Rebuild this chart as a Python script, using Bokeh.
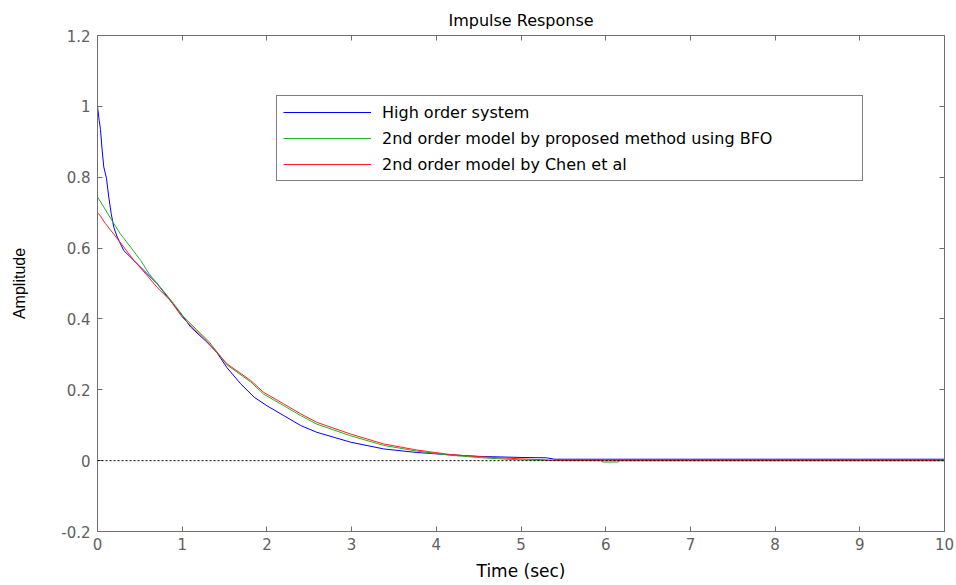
from bokeh.plotting import figure
from bokeh.models import Range1d, LinearAxis, FixedTicker, Span, Legend, LegendItem
from bokeh.embed import file_html
from bokeh.resources import INLINE

# ---- data ----
t_high = [0, 0.02, 0.035, 0.055, 0.074, 0.106, 0.133, 0.162, 0.192, 0.233, 0.31, 0.43, 0.547,
          0.705, 0.86, 1.0, 1.10, 1.29, 1.41, 1.53, 1.69, 1.85, 2.0, 2.2, 2.4, 2.59, 2.79, 2.99,
          3.38, 3.77, 4.13, 4.5, 5.0, 5.3, 5.4, 6.0, 7.0, 8.0, 9.0, 10.0]
y_high = [1.0, 0.96, 0.935, 0.876, 0.829, 0.797, 0.744, 0.697, 0.659, 0.631, 0.593, 0.565, 0.537,
          0.499, 0.452, 0.41, 0.377, 0.335, 0.305, 0.262, 0.217, 0.179, 0.155, 0.127, 0.099, 0.080,
          0.066, 0.052, 0.033, 0.023, 0.017, 0.012, 0.009, 0.008, 0.004, 0.004, 0.004, 0.004, 0.004, 0.004]

t_bfo = [0, 0.074, 0.17, 0.27, 0.39, 0.51, 0.61, 0.74, 0.90, 1.02, 1.17, 1.32, 1.53, 1.81, 1.96,
         2.2, 2.4, 2.59, 2.99, 3.38, 3.77, 4.17, 4.6, 5.0, 5.5, 5.95, 5.96, 6.15, 6.16, 7.0, 8.0, 9.0, 10.0]
y_bfo = [0.744, 0.716, 0.678, 0.640, 0.603, 0.565, 0.527, 0.490, 0.443, 0.405, 0.37, 0.335, 0.27,
         0.222, 0.188, 0.155, 0.127, 0.103, 0.070, 0.043, 0.027, 0.015, 0.007, 0.002, 0.0, 0.0,
         -0.004, -0.004, 0.0, 0.0, 0.0, 0.0, 0.0]

t_chen = [0, 0.03, 0.094, 0.19, 0.31, 0.43, 0.57, 0.70, 0.86, 1.0, 1.15, 1.3, 1.53, 1.81, 1.96,
          2.2, 2.4, 2.59, 2.99, 3.38, 3.77, 4.17, 4.6, 5.0, 5.4, 6.0, 7.0, 8.0, 9.0, 10.0]
y_chen = [0.70, 0.692, 0.669, 0.640, 0.603, 0.565, 0.527, 0.490, 0.452, 0.405, 0.37, 0.335, 0.273,
          0.226, 0.193, 0.16, 0.132, 0.108, 0.075, 0.047, 0.030, 0.017, 0.010, 0.005, 0.001, 0.0,
          0.0, 0.0, 0.0, 0.0]

series_names = ["High order system",
                "2nd order model by proposed method using BFO",
                "2nd order model by Chen et al"]

x_ticks = [0, 1, 2, 3, 4, 5, 6, 7, 8, 9, 10]
x_tick_labels = ["0", "1", "2", "3", "4", "5", "6", "7", "8", "9", "10"]
y_ticks = [-0.2, 0, 0.2, 0.4, 0.6, 0.8, 1.0, 1.2]
y_tick_labels = ["-0.2", "0", "0.2", "0.4", "0.6", "0.8", "1", "1.2"]

WIDE = "DejaVu Sans"
ARIAL = "Liberation Sans"
GRAY = "#6e6e6e"

p = figure(width=954, height=583, x_range=Range1d(0, 10), y_range=Range1d(-0.2, 1.2),
           output_backend="svg", toolbar_location=None, title="Impulse Response",
           min_border_left=97, min_border_right=10, min_border_top=35, min_border_bottom=52)

p.title.align = "center"
p.title.text_font = WIDE
p.title.text_font_style = "normal"
p.title.text_font_size = "16px"
p.title.text_color = "black"
p.title.standoff = 12

p.xgrid.visible = False
p.ygrid.visible = False
p.outline_line_color = GRAY
p.outline_line_width = 1

for ax, ticks, labels in ((p.xaxis[0], x_ticks, x_tick_labels), (p.yaxis[0], y_ticks, y_tick_labels)):
    ax.ticker = FixedTicker(ticks=ticks)
    ax.major_label_overrides = {t: l for t, l in zip(ticks, labels)}
    ax.minor_tick_line_color = None
    ax.major_tick_in = 5
    ax.major_tick_out = 0
    ax.axis_line_color = GRAY
    ax.major_tick_line_color = GRAY
    ax.major_label_text_color = "#606060"
    ax.major_label_text_font = WIDE
    ax.major_label_text_font_size = "15px"
    ax.axis_label_text_font_style = "normal"
    ax.axis_label_text_color = "black"

p.xaxis.axis_label = "Time (sec)"
p.xaxis.axis_label_text_font = WIDE
p.xaxis.axis_label_text_font_size = "17px"
p.xaxis.major_label_standoff = 6
p.xaxis.axis_label_standoff = 8
p.yaxis.axis_label = "Amplitude"
p.yaxis.axis_label_text_font = ARIAL
p.yaxis.axis_label_text_font_size = "16px"
p.yaxis.major_label_standoff = 7
p.yaxis.axis_label_standoff = 30

for loc, ticks in (("above", x_ticks), ("right", y_ticks)):
    ax = LinearAxis(ticker=FixedTicker(ticks=ticks))
    ax.major_label_overrides = {t: "" for t in ticks}
    ax.major_label_standoff = 0
    ax.minor_tick_line_color = None
    ax.major_tick_in = 5
    ax.major_tick_out = 0
    ax.axis_line_color = GRAY
    ax.major_tick_line_color = GRAY
    p.add_layout(ax, loc)

p.add_layout(Span(location=0, dimension="width", line_color="black", line_dash="2 2", line_width=1))

r1 = p.line(t_high, y_high, line_color="#0000ff", line_width=1)
r2 = p.line(t_bfo, y_bfo, line_color="#1fb51f", line_width=1)
r3 = p.line(t_chen, y_chen, line_color="#ff2020", line_width=1)

legend = Legend(items=[LegendItem(label=series_names[0], renderers=[r1]),
                       LegendItem(label=series_names[1], renderers=[r2]),
                       LegendItem(label=series_names[2], renderers=[r3])],
                location=(179, 350))
legend.label_text_font = WIDE
legend.label_text_font_size = "16px"
legend.label_text_color = "black"
legend.glyph_width = 88
legend.glyph_height = 20
legend.label_height = 20
legend.label_width = 474
legend.label_standoff = 11
legend.spacing = 6
legend.padding = 6
legend.margin = 0
legend.border_line_color = "black"
legend.border_line_width = 1
legend.background_fill_color = "white"
legend.background_fill_alpha = 1
p.add_layout(legend, "center")

open("out.html", "w").write(file_html(p, INLINE))
